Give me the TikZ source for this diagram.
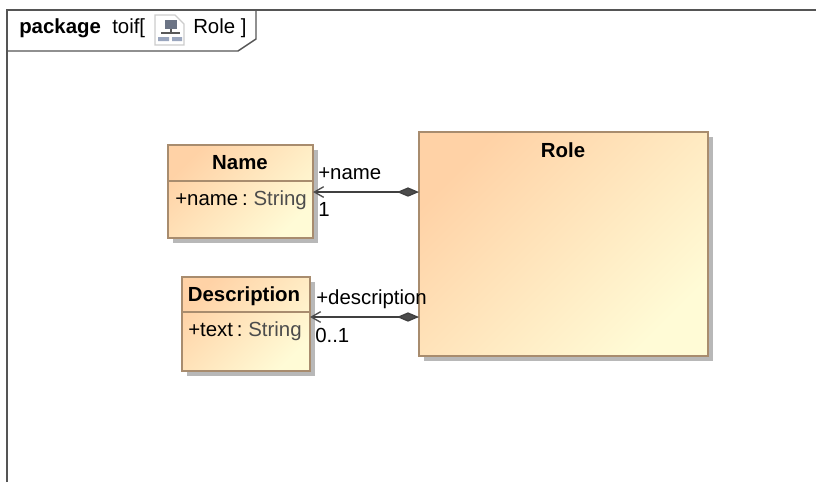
\documentclass[tikz,border=0pt]{standalone}
\usepackage{fontspec}
\setmainfont{Liberation Sans}
\usetikzlibrary{arrows.meta, positioning, shadows}
\definecolor{framegray}{HTML}{555555}
\definecolor{classedge}{HTML}{A88C6E}
\definecolor{classtop}{HTML}{FFD2A6}
\definecolor{classbottom}{HTML}{FFFBD6}
\definecolor{iconblue}{HTML}{9AA6BE}
\tikzset{
    classbox/.style={
        rectangle, draw=classedge, line width=1.1pt,
        inner sep=0pt, outer sep=0pt,
        top color=classtop, bottom color=classbottom, shading angle=45,
        general shadow={fill=black!28, shadow xshift=3.75pt, shadow yshift=-3.75pt}
    },
    compartment/.style={draw=classedge, line width=0.9pt},
    label/.style={font=\fontsize{15.3pt}{18pt}\selectfont, inner sep=0pt, text=black, anchor=base west},
    attribute/.style={label, execute at begin node={\spaceskip=2.9pt\relax}},
    title/.style={label, font=\fontsize{15.3pt}{18pt}\selectfont\bfseries, anchor=base},
    frameline/.style={draw=framegray, line width=1.1pt},
    assoc/.style={
        draw=black!75, line width=1pt,
        {Diamond[length=16.5pt, width=7pt, fill=black!70]}-{Straight Barb[length=7pt, width=8pt, black!70]}
    }
}

\begin{document}
\begin{tikzpicture}[x=0.75pt, y=-0.75pt]
\useasboundingbox (0,0) rectangle (816,482);

% Package frame and tab
\draw[frameline] (7,482) -- (7,10) -- (816,10);
\draw[frameline] (256,10) -- (256,39) -- (238,51) -- (7,51);
\node[title, anchor=base west] (pkgkey) at (19,33) {package};
\node[label] (pkgname) at (112,33) {toif[};
\node[label] (pkgdiagram) at (193,33) {Role ]};

% Diagram icon
\draw[black!20, fill=white, line width=0.8pt] (155,15) -- (175,15) -- (184,24) -- (184,45) -- (155,45) -- cycle;
\fill[iconblue!70!black] (165,20) rectangle (177,29);
\draw[black!65, line width=1pt] (171,29) -- (171,33) (161,33) -- (180,33);
\fill[iconblue] (158,37) rectangle (169,41) (172,37) rectangle (182,41);

% Classes
\node[classbox, minimum width=108.75pt, minimum height=69.75pt] (name) at (240.5,191.5) {};
\node[classbox, minimum width=96pt, minimum height=70.5pt] (descr) at (246,324) {};
\node[classbox, minimum width=216.75pt, minimum height=168pt] (role) at (563.5,244) {};

% Class names
\node[title] (nametitle) at (240,169) {Name};
\node[title] (descrtitle) at (244,301) {Description};
\node[title] (roletitle) at (563,157) {Role};

% Compartments
\draw[compartment] (name.west |- 0,181) -- (name.east |- 0,181);
\draw[compartment] (descr.west |- 0,312) -- (descr.east |- 0,312);

% Attributes
\node[attribute] (nameattr) at (175,205) {+name : \textcolor{black!70}{String}};
\node[attribute] (descrattr) at (188,336) {+text : \textcolor{black!70}{String}};

% Associations
\coordinate (nameport) at ([yshift=-0.4pt]name.east);
\coordinate (descrport) at ([yshift=5.25pt]descr.east);
\draw[assoc] (role.west |- nameport) -- (nameport);
\draw[assoc] (role.west |- descrport) -- (descrport);

% Association ends
\node[label] (namerole) at (318,179) {+name};
\node[label] (namemult) at (318,216) {1};
\node[label] (descrrole) at (316,304) {+description};
\node[label] (descrmult) at (315,342) {0..1};

\end{tikzpicture}
\end{document}
